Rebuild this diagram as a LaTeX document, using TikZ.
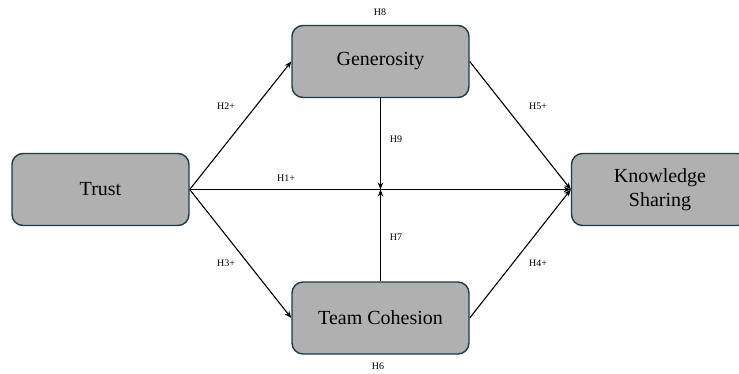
\documentclass[tikz,border=0pt]{standalone}
\usepackage{fontspec}
\setmainfont{Liberation Serif}
\usetikzlibrary{arrows.meta}
\begin{document}
\begin{tikzpicture}[x=1pt,y=-1pt,
  box/.style={draw=boxline, line width=1.4pt, fill=boxfill, rounded corners=11pt,
    minimum width=177pt, minimum height=72pt, inner sep=0pt, align=center,
    font=\fontsize{20}{24}\selectfont},
  lbl/.style={font=\fontsize{10}{12}\selectfont, inner sep=0pt},
  conn/.style={line width=1.1pt, -{Stealth[length=7pt,width=5.5pt]}}]
\definecolor{boxfill}{HTML}{B0B0B0}
\definecolor{boxline}{HTML}{1E3A48}
\useasboundingbox (0,0) rectangle (739,374);
\clip (0,0) rectangle (739,374);
\node[box] (trust) at (100.5,189.5) {Trust};
\node[box] (gen) at (380.5,61.5) {Generosity};
\node[box] (team) at (380.5,318) {Team Cohesion};
\node[box, text depth=4pt] (ks) at (660,189.5) {Knowledge\\Sharing};
\coordinate (m) at (gen.south |- trust.east);
\draw[conn] (trust.east) -- (gen.west);
\draw[conn] (trust.east) -- (team.west);
\draw[conn] (trust.east) -- (ks.west);
\draw[conn] (gen.east) -- (ks.west);
\draw[conn] (team.east) -- (ks.west);
\draw[conn] (gen.south) -- (m);
\draw[conn] (team.north) -- (m);
\node[lbl] (h8) at (380,12) {H8};
\node[lbl] (h2) at (226,106) {H2+};
\node[lbl] (h5) at (538,106) {H5+};
\node[lbl] (h9) at (396,139) {H9};
\node[lbl] (h1) at (286,178) {H1+};
\node[lbl] (h7) at (396,237) {H7};
\node[lbl] (h3) at (226,263) {H3+};
\node[lbl] (h4) at (538,263) {H4+};
\node[lbl] (h6) at (378,366) {H6};
\end{tikzpicture}
\end{document}
